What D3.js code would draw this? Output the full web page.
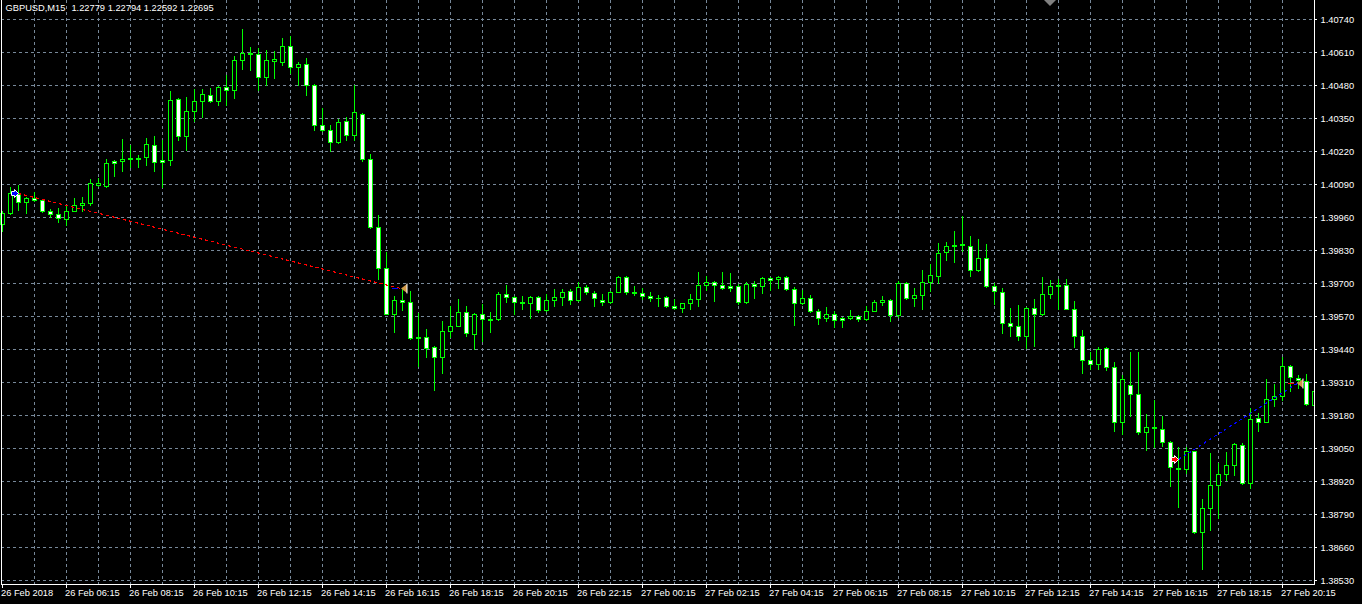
<!DOCTYPE html>
<html><head><meta charset="utf-8">
<script src="https://cdn.jsdelivr.net/npm/d3@7"></script>
<style>html,body{margin:0;padding:0;background:#000;overflow:hidden}svg{display:block}text.title{white-space:pre}</style>
</head><body><svg id="c" width="1362" height="604"></svg>
<script>
const symbolTitle = "GBPUSD,M15  1.22779 1.22794 1.22592 1.22695";
const startTime = "2018-02-26T04:15:00Z";
const barMinutes = 15;

const open = [1.39932,1.39976,1.40052,1.40018,1.40035,1.40028,1.39984,1.39972,1.39953,1.39985,1.40006,1.40014,1.40085,1.40083,1.40181,1.40181,1.40188,1.40190,1.40195,1.40244,1.40186,1.40183,1.40426,1.40279,1.40378,1.40417,1.40442,1.40416,1.40472,1.40460,1.40579,1.40607,1.40602,1.40510,1.40576,1.40571,1.40634,1.40550,1.40563,1.40480,1.40324,1.40303,1.40254,1.40338,1.40282,1.40366,1.40188,1.39921,1.39759,1.39578,1.39633,1.39625,1.39483,1.39486,1.39447,1.39408,1.39511,1.39531,1.39586,1.39501,1.39578,1.39558,1.39558,1.39657,1.39645,1.39625,1.39620,1.39645,1.39592,1.39633,1.39643,1.39669,1.39632,1.39684,1.39661,1.39633,1.39625,1.39665,1.39724,1.39665,1.39661,1.39649,1.39639,1.39645,1.39609,1.39600,1.39620,1.39637,1.39692,1.39704,1.39692,1.39688,1.39688,1.39625,1.39696,1.39688,1.39720,1.39716,1.39724,1.39676,1.39621,1.39641,1.39590,1.39561,1.39578,1.39564,1.39562,1.39570,1.39558,1.39591,1.39626,1.39633,1.39572,1.39701,1.39639,1.39651,1.39702,1.39728,1.39821,1.39847,1.39849,1.39847,1.39750,1.39798,1.39688,1.39666,1.39542,1.39531,1.39490,1.39602,1.39578,1.39657,1.39688,1.39691,1.39599,1.39490,1.39395,1.39381,1.39444,1.39369,1.39152,1.39299,1.39263,1.39113,1.39133,1.39126,1.39074,1.38971,1.38968,1.39038,1.38719,1.38814,1.38904,1.38948,1.38983,1.39062,1.38912,1.39168,1.39154,1.39243,1.39255,1.39373,1.39326,1.39312,1.39221];
const high = [1.39982,1.40078,1.40086,1.40038,1.40057,1.40032,1.39993,1.39996,1.40005,1.40035,1.40039,1.40111,1.40114,1.40190,1.40186,1.40267,1.40242,1.40206,1.40271,1.40278,1.40265,1.40458,1.40430,1.40434,1.40464,1.40463,1.40470,1.40477,1.40521,1.40596,1.40699,1.40628,1.40626,1.40619,1.40615,1.40665,1.40672,1.40571,1.40588,1.40482,1.40389,1.40324,1.40347,1.40355,1.40480,1.40368,1.40210,1.39969,1.39821,1.39650,1.39680,1.39670,1.39582,1.39520,1.39450,1.39552,1.39611,1.39638,1.39611,1.39580,1.39618,1.39587,1.39665,1.39693,1.39647,1.39647,1.39650,1.39647,1.39657,1.39678,1.39678,1.39676,1.39702,1.39691,1.39667,1.39657,1.39667,1.39729,1.39726,1.39689,1.39680,1.39665,1.39654,1.39650,1.39638,1.39623,1.39658,1.39745,1.39728,1.39706,1.39745,1.39741,1.39697,1.39705,1.39708,1.39724,1.39724,1.39726,1.39726,1.39684,1.39674,1.39651,1.39599,1.39607,1.39588,1.39568,1.39595,1.39575,1.39608,1.39634,1.39650,1.39637,1.39709,1.39703,1.39681,1.39752,1.39775,1.39859,1.39862,1.39906,1.39962,1.39884,1.39875,1.39855,1.39700,1.39679,1.39603,1.39614,1.39604,1.39637,1.39724,1.39713,1.39717,1.39717,1.39630,1.39516,1.39428,1.39448,1.39448,1.39389,1.39339,1.39428,1.39428,1.39185,1.39240,1.39177,1.39076,1.39054,1.39054,1.39040,1.38850,1.39030,1.38991,1.39034,1.39070,1.39070,1.39208,1.39188,1.39322,1.39303,1.39407,1.39375,1.39339,1.39342,1.39299];
const low = [1.39904,1.39973,1.39989,1.39975,1.40022,1.39981,1.39959,1.39939,1.39930,1.39982,1.39982,1.40009,1.40081,1.40079,1.40120,1.40140,1.40156,1.40156,1.40166,1.40140,1.40078,1.40164,1.40265,1.40225,1.40337,1.40355,1.40413,1.40403,1.40400,1.40428,1.40544,1.40540,1.40459,1.40479,1.40508,1.40558,1.40527,1.40480,1.40439,1.40301,1.40300,1.40221,1.40250,1.40262,1.40262,1.40179,1.39917,1.39717,1.39576,1.39507,1.39595,1.39481,1.39372,1.39407,1.39280,1.39345,1.39488,1.39530,1.39492,1.39441,1.39473,1.39508,1.39555,1.39624,1.39579,1.39599,1.39562,1.39586,1.39590,1.39608,1.39615,1.39619,1.39630,1.39657,1.39608,1.39615,1.39622,1.39663,1.39655,1.39654,1.39637,1.39628,1.39608,1.39606,1.39599,1.39584,1.39599,1.39608,1.39671,1.39628,1.39677,1.39667,1.39617,1.39623,1.39641,1.39659,1.39671,1.39680,1.39674,1.39536,1.39619,1.39586,1.39540,1.39549,1.39525,1.39525,1.39558,1.39549,1.39555,1.39589,1.39615,1.39551,1.39568,1.39637,1.39611,1.39599,1.39670,1.39701,1.39792,1.39781,1.39828,1.39726,1.39746,1.39686,1.39618,1.39503,1.39492,1.39474,1.39444,1.39453,1.39572,1.39641,1.39598,1.39597,1.39446,1.39345,1.39361,1.39362,1.39356,1.39115,1.39106,1.39178,1.39106,1.39043,1.39054,1.39056,1.38901,1.38818,1.38950,1.38717,1.38573,1.38725,1.38774,1.38922,1.38942,1.38909,1.38892,1.39115,1.39152,1.39214,1.39240,1.39273,1.39286,1.39218,1.39201];
const close = [1.39976,1.40055,1.40019,1.40035,1.40026,1.39982,1.39971,1.39956,1.39985,1.40007,1.40015,1.40094,1.40094,1.40174,1.40173,1.40188,1.40192,1.40192,1.40248,1.40177,1.40177,1.40421,1.40279,1.40378,1.40417,1.40445,1.40417,1.40473,1.40462,1.40580,1.40607,1.40602,1.40512,1.40580,1.40581,1.40634,1.40550,1.40563,1.40480,1.40322,1.40303,1.40254,1.40336,1.40282,1.40374,1.40187,1.39921,1.39759,1.39578,1.39633,1.39625,1.39483,1.39487,1.39444,1.39408,1.39511,1.39531,1.39586,1.39503,1.39578,1.39558,1.39556,1.39657,1.39645,1.39625,1.39623,1.39645,1.39592,1.39633,1.39645,1.39665,1.39632,1.39684,1.39663,1.39639,1.39625,1.39665,1.39724,1.39665,1.39660,1.39649,1.39639,1.39642,1.39608,1.39601,1.39621,1.39638,1.39692,1.39704,1.39691,1.39679,1.39680,1.39625,1.39696,1.39688,1.39720,1.39712,1.39724,1.39676,1.39621,1.39641,1.39590,1.39561,1.39578,1.39554,1.39554,1.39570,1.39559,1.39591,1.39625,1.39634,1.39572,1.39701,1.39639,1.39653,1.39705,1.39733,1.39819,1.39847,1.39849,1.39852,1.39750,1.39798,1.39688,1.39668,1.39542,1.39531,1.39490,1.39602,1.39578,1.39657,1.39688,1.39691,1.39599,1.39490,1.39395,1.39381,1.39441,1.39369,1.39152,1.39322,1.39263,1.39113,1.39133,1.39129,1.39074,1.38975,1.38968,1.39038,1.38719,1.38814,1.38904,1.38948,1.38983,1.39066,1.38912,1.39164,1.39152,1.39243,1.39255,1.39373,1.39330,1.39316,1.39223,1.39273];

const priceTicks = [1.40740,1.40610,1.40480,1.40350,1.40220,1.40090,1.39960,1.39830,1.39700,1.39570,1.39440,1.39310,1.39180,1.39050,1.38920,1.38790,1.38660,1.38530];
const timeTickLabels = ["26 Feb 2018","26 Feb 06:15","26 Feb 08:15","26 Feb 10:15","26 Feb 12:15","26 Feb 14:15","26 Feb 16:15","26 Feb 18:15","26 Feb 20:15","26 Feb 22:15","27 Feb 00:15","27 Feb 02:15","27 Feb 04:15","27 Feb 06:15","27 Feb 08:15","27 Feb 10:15","27 Feb 12:15","27 Feb 14:15","27 Feb 16:15","27 Feb 18:15","27 Feb 20:15"];

// trade markers (bar index / price)
const tradeOpenBar = [2, 147];
const tradeOpenPrice = [1.40055, 1.39005];
const tradeCloseBar = [50, 162];
const tradeClosePrice = [1.39680, 1.39307];
const tradeArrowColor = ["#0000ff", "#ff0000"];
const tradeLineColor = ["#ff0000", "#0000ff"];
const tradeStubColor = ["#0000ff", "#ff0000"];

const W = 1362, H = 604, plotRight = 1314, plotBottom = 584;
const GRID = "#778899", FG = "#ffffff", CANDLE = "#00ff00";
const FONT = "'Liberation Sans', Arial, sans-serif";

const t0 = new Date(startTime);
const times = open.map((_, i) => new Date(+t0 + i * barMinutes * 60000));
const bars = open.map((o, i) => ({t: times[i], o, h: high[i], l: low[i], c: close[i]}));
const tickTimes = timeTickLabels.map((_, k) => new Date(+t0 + k * 8 * barMinutes * 60000));
const gridTimes = d3.range(4, times.length - 1, 4).map(i => times[i]);

const x = d3.scaleUtc().domain([times[0], times[times.length - 1]]).range([2, plotRight]);
const y = d3.scaleLinear().domain([1.38530, 1.40740]).range([580, 19]);

const svg = d3.select("#c");
svg.append("rect").attr("width", W).attr("height", H).attr("fill", "#000");

svg.append("defs").append("clipPath").attr("id", "plot")
  .append("rect").attr("x", 0).attr("y", 0).attr("width", plotRight).attr("height", plotBottom);

// grid
const grid = svg.append("g").attr("stroke", GRID).attr("stroke-width", 1).attr("stroke-dasharray", "3,3")
  .attr("shape-rendering", "crispEdges");
grid.selectAll("line.h").data(priceTicks).join("line").attr("class", "h")
  .attr("x1", 1).attr("x2", plotRight).attr("y1", d => y(d) + 0.5).attr("y2", d => y(d) + 0.5);
grid.selectAll("line.v").data(gridTimes).join("line").attr("class", "v")
  .attr("x1", d => x(d) + 0.5).attr("x2", d => x(d) + 0.5).attr("y1", 0).attr("y2", plotBottom);

// candles
const cg = svg.append("g").attr("clip-path", "url(#plot)").attr("shape-rendering", "crispEdges");
const cand = cg.selectAll("g").data(bars).join("g");
cand.append("line")
  .attr("x1", d => Math.round(x(d.t)) + 0.5).attr("x2", d => Math.round(x(d.t)) + 0.5)
  .attr("y1", d => Math.round(y(d.h))).attr("y2", d => Math.round(y(d.l)) + 1)
  .attr("stroke", CANDLE).attr("stroke-width", 1);
cand.each(function(d) {
  const g = d3.select(this);
  const cx = Math.round(x(d.t));
  const yo = Math.round(y(d.o)), yc = Math.round(y(d.c));
  const top = Math.min(yo, yc), bot = Math.max(yo, yc);
  if (bot - top < 1) {
    g.append("line").attr("x1", cx - 2).attr("x2", cx + 3)
      .attr("y1", top + 0.5).attr("y2", top + 0.5).attr("stroke", CANDLE);
  } else {
    g.append("rect").attr("x", cx - 1.5).attr("y", top + 0.5)
      .attr("width", 4).attr("height", bot - top)
      .attr("fill", d.c < d.o ? "#ffffff" : "#000000")
      .attr("stroke", CANDLE).attr("stroke-width", 1);
  }
});

// trades
const tg = svg.append("g").attr("clip-path", "url(#plot)");
tradeOpenBar.forEach((ob, k) => {
  const x1 = Math.round(x(times[ob])) + 0.5, y1 = Math.round(y(tradeOpenPrice[k])) + 0.5;
  const cb = tradeCloseBar[k];
  const x2 = Math.round(x(times[cb])) - 1, y2 = Math.round(y(tradeClosePrice[k])) + 0.5;
  tg.append("line").attr("x1", x1).attr("y1", y1).attr("x2", x2).attr("y2", y2)
    .attr("stroke", tradeLineColor[k]).attr("stroke-width", 1.2).attr("stroke-dasharray", "3,3")
    .attr("shape-rendering", "crispEdges");
  tg.append("line").attr("x1", x2 - 9).attr("x2", x2 - 3).attr("y1", y2).attr("y2", y2)
    .attr("stroke", tradeStubColor[k]).attr("stroke-width", 1).attr("shape-rendering", "crispEdges");
  // open arrow
  tg.append("path")
    .attr("d", `M${x1},${y1} l-4,-4 v2 h-3 v4 h3 v2 z`)
    .attr("fill", tradeArrowColor[k]).attr("stroke", "#fff").attr("stroke-width", 1);
  // close triangle
  const tx = Math.round(x(times[cb])) - 1;
  tg.append("path").attr("d", `M${tx},${y2} L${tx + 6},${y2 - 4.5} L${tx + 6},${y2 + 4.5} Z`)
    .attr("fill", "#d09848");
  tg.append("line").attr("x1", tx + 6).attr("x2", tx + 6).attr("y1", y2 - 5).attr("y2", y2 + 5)
    .attr("stroke", "#fff").attr("stroke-width", 1);
});

// chart shift marker
svg.append("path").attr("d", "M1044,0 L1056,0 L1050,6 Z").attr("fill", "#808080");

// axis lines
const axl = svg.append("g").attr("stroke", FG).attr("shape-rendering", "crispEdges");
axl.append("line").attr("x1", 1.5).attr("x2", 1.5).attr("y1", 0).attr("y2", plotBottom);
axl.append("line").attr("x1", plotRight + 0.5).attr("x2", plotRight + 0.5).attr("y1", 0).attr("y2", plotBottom + 1);
axl.append("line").attr("x1", 1).attr("x2", plotRight + 1).attr("y1", plotBottom + 0.5).attr("y2", plotBottom + 0.5);

// y axis
const ya = svg.append("g").attr("transform", `translate(${plotRight},0)`)
  .call(d3.axisRight(y).tickValues(priceTicks).tickFormat(d3.format(".5f")).tickSize(3));
ya.select(".domain").remove();
ya.selectAll("line").attr("stroke", FG);
ya.selectAll("text").attr("fill", FG).attr("x", 6.5).attr("dy", "0.35em")
  .style("font-family", FONT).style("font-size", "9.3px");

// x axis
const xa = svg.append("g").attr("transform", `translate(0,${plotBottom})`)
  .call(d3.axisBottom(x).tickValues(tickTimes).tickFormat((d, i) => timeTickLabels[i]).tickSize(4));
xa.select(".domain").remove();
xa.selectAll("line").attr("stroke", FG);
xa.selectAll("text").attr("fill", FG).attr("text-anchor", "start").attr("x", -1.5).attr("y", 5.4)
  .attr("dy", "0.71em").style("font-family", FONT).style("font-size", "9.3px");

// title (symbol part and quote part, keeping the double gap)
const titleParts = symbolTitle.split("  ");
const tt = svg.append("text").attr("class", "title").attr("x", 5.5).attr("y", 11).attr("fill", FG)
  .attr("xml:space", "preserve")
  .style("font-family", FONT).style("font-size", "9.3px");
tt.append("tspan").text(titleParts[0]);
tt.append("tspan").attr("dx", 6).text(titleParts.slice(1).join("  "));
</script></body></html>
